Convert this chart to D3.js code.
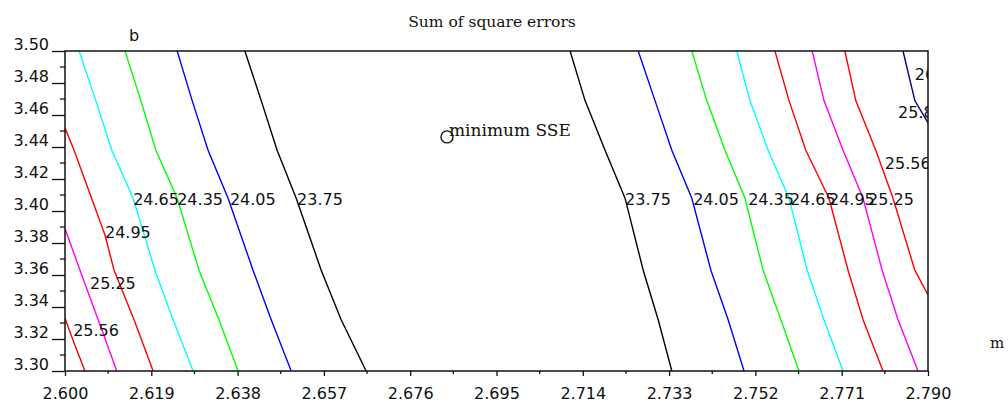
<!DOCTYPE html>
<html>
<head>
<meta charset="utf-8">
<script src="https://cdn.jsdelivr.net/npm/d3@7"></script>
<style>
  body { margin: 0; background: #fff; }
  .tick-label { font: 16px "DejaVu Sans", sans-serif; fill: #111; }
  .clabel { font: 16px "DejaVu Sans", sans-serif; fill: #111; }
  .serif { font-family: "DejaVu Serif", serif; fill: #111; }
</style>
</head>
<body>
<div class="chart"></div>
<script>
var svgWidth = 1008;
var svgHeight = 402;

// plot box in pixels
var margin = { top: 51, right: 80, bottom: 31, left: 65 };
var width = svgWidth - margin.left - margin.right;
var height = svgHeight - margin.top - margin.bottom;

// axis ranges and ticks
var mDomain = [2.6, 2.79];
var bDomain = [3.3, 3.5];
var mTicks = [2.600, 2.619, 2.638, 2.657, 2.676, 2.695, 2.714, 2.733, 2.752, 2.771, 2.790];
var bTicks = [3.30, 3.32, 3.34, 3.36, 3.38, 3.40, 3.42, 3.44, 3.46, 3.48, 3.50];

// contour levels and the colour of each line
var levels = ["23.75", "24.05", "24.35", "24.65", "24.95", "25.25", "25.56", "25.86", "26.16"];
var levelColors = ["#000000", "#0000ff", "#00ff00", "#00ffff", "#ff0000", "#ff00ff", "#ff0000", "#000080", "#000080"];

// contour lines, [m, b] points
var leftLines = [
  { level: "25.56", pts: [[2.6000, 3.333], [2.6022, 3.316], [2.6044, 3.300]] },
  { level: "25.25", pts: [[2.6000, 3.389], [2.6033, 3.363], [2.6073, 3.332], [2.6114, 3.300]] },
  { level: "24.95", pts: [[2.6000, 3.452], [2.6020, 3.438], [2.6088, 3.385], [2.6108, 3.363], [2.6152, 3.332], [2.6194, 3.300]] },
  { level: "24.65", pts: [[2.6031, 3.500], [2.6068, 3.469], [2.6103, 3.438], [2.6150, 3.408], [2.6198, 3.363], [2.6238, 3.332], [2.6282, 3.300]] },
  { level: "24.35", pts: [[2.6132, 3.500], [2.6167, 3.469], [2.6200, 3.438], [2.6247, 3.408], [2.6295, 3.363], [2.6339, 3.332], [2.6381, 3.300]] },
  { level: "24.05", pts: [[2.6247, 3.500], [2.6280, 3.469], [2.6315, 3.438], [2.6359, 3.408], [2.6414, 3.363], [2.6454, 3.332], [2.6498, 3.300]] },
  { level: "23.75", pts: [[2.6396, 3.500], [2.6432, 3.469], [2.6467, 3.438], [2.6509, 3.408], [2.6564, 3.363], [2.6608, 3.332], [2.6663, 3.300]] }
];

var rightLines = [
  { level: "23.75", pts: [[2.7112, 3.500], [2.7145, 3.469], [2.7189, 3.438], [2.7233, 3.408], [2.7273, 3.363], [2.7306, 3.332], [2.7336, 3.300]] },
  { level: "24.05", pts: [[2.7262, 3.500], [2.7299, 3.469], [2.7336, 3.438], [2.7380, 3.408], [2.7422, 3.363], [2.7460, 3.332], [2.7495, 3.300]] },
  { level: "24.35", pts: [[2.7380, 3.500], [2.7413, 3.469], [2.7453, 3.438], [2.7497, 3.408], [2.7537, 3.363], [2.7576, 3.332], [2.7616, 3.300]] },
  { level: "24.65", pts: [[2.7479, 3.500], [2.7508, 3.469], [2.7548, 3.438], [2.7594, 3.408], [2.7634, 3.363], [2.7671, 3.332], [2.7713, 3.300]] },
  { level: "24.95", pts: [[2.7563, 3.500], [2.7594, 3.469], [2.7631, 3.438], [2.7682, 3.408], [2.7724, 3.363], [2.7757, 3.332], [2.7801, 3.300]] },
  { level: "25.25", pts: [[2.7645, 3.500], [2.7671, 3.469], [2.7713, 3.438], [2.7757, 3.408], [2.7799, 3.363], [2.7834, 3.332], [2.7878, 3.300]] },
  { level: "25.56", pts: [[2.7717, 3.500], [2.7741, 3.469], [2.7785, 3.438], [2.7823, 3.408], [2.7871, 3.363], [2.7900, 3.3475]] },
  { level: "25.86", pts: [[2.7845, 3.500], [2.7871, 3.469], [2.7900, 3.455]] }
];

// contour labels: text with its left end / baseline in data units
var labelText = ["24.65", "24.35", "24.05", "23.75", "24.95", "25.25", "25.56",
                 "23.75", "24.05", "24.35", "24.65", "24.95", "25.25", "25.56", "25.86", "26.16"];
var labelM = [2.6150, 2.6247, 2.6363, 2.6511, 2.6088, 2.6055, 2.6018,
              2.7233, 2.7383, 2.7504, 2.7596, 2.7682, 2.7768, 2.7805, 2.7834, 2.7871];
var labelB = [3.404, 3.404, 3.404, 3.404, 3.383, 3.351, 3.322,
              3.404, 3.404, 3.404, 3.404, 3.404, 3.404, 3.426, 3.458, 3.482];

// minimum of the sum of square errors
var minPoint = { m: 2.6841, b: 3.4463, text: "minimum SSE" };

var svg = d3.select(".chart").append("svg")
  .attr("width", svgWidth)
  .attr("height", svgHeight);

var chart = svg.append("g")
  .attr("transform", "translate(" + margin.left + "," + margin.top + ")");

var x = d3.scaleLinear().domain(mDomain).range([0, width]);
var y = d3.scaleLinear().domain(bDomain).range([height, 0]);

chart.append("clipPath").attr("id", "plotClip")
  .append("rect").attr("x", 0).attr("y", 0).attr("width", width).attr("height", height);

var plot = chart.append("g").attr("clip-path", "url(#plotClip)");

var line = d3.line()
  .x(function(d) { return x(d[0]); })
  .y(function(d) { return y(d[1]); });

function colorOf(level) {
  return levelColors[levels.indexOf(level)];
}

plot.selectAll("path.contour")
  .data(leftLines.concat(rightLines))
  .enter()
  .append("path")
  .attr("class", "contour")
  .attr("d", function(d) { return line(d.pts); })
  .attr("fill", "none")
  .attr("stroke", function(d) { return colorOf(d.level); })
  .attr("stroke-width", 1.4);

plot.selectAll("text.clabel")
  .data(labelText)
  .enter()
  .append("text")
  .attr("class", "clabel")
  .attr("x", function(d, i) { return x(labelM[i]); })
  .attr("y", function(d, i) { return y(labelB[i]); })
  .text(function(d) { return d; });

// minimum marker
chart.append("circle")
  .attr("cx", x(minPoint.m))
  .attr("cy", y(minPoint.b))
  .attr("r", 6)
  .attr("fill", "none")
  .attr("stroke", "#111")
  .attr("stroke-width", 1.4);

chart.append("text")
  .attr("class", "serif")
  .attr("x", x(minPoint.m) + 2)
  .attr("y", y(minPoint.b) - 1)
  .style("font-size", "17px")
  .text(minPoint.text);

// axes
var bottomAxis = d3.axisBottom(x).tickValues(mTicks).tickSize(5).tickFormat(d3.format(".3f"));
var leftAxis = d3.axisLeft(y).tickValues(bTicks).tickSize(13).tickFormat(d3.format(".2f"));

var gx = chart.append("g")
  .attr("transform", "translate(0," + height + ")")
  .call(bottomAxis);
gx.select(".domain").remove();
gx.selectAll(".tick line").attr("stroke", "#111").attr("stroke-width", 1.3);
gx.selectAll(".tick text").attr("class", "tick-label").attr("y", 22).attr("dy", "0.35em").style("font", null);

var mMinor = mTicks.slice(1).map(function(d, i) { return (d + mTicks[i]) / 2; });
chart.append("g").selectAll("line")
  .data(mMinor)
  .enter().append("line")
  .attr("x1", function(d) { return x(d); })
  .attr("x2", function(d) { return x(d); })
  .attr("y1", height)
  .attr("y2", height + 3)
  .attr("stroke", "#111")
  .attr("stroke-width", 1.3);

var gy = chart.append("g").call(leftAxis);
gy.select(".domain").remove();
gy.selectAll(".tick line").attr("stroke", "#111").attr("stroke-width", 1.3);
gy.selectAll(".tick text").attr("class", "tick-label").attr("x", -16).attr("dy", "-0.1em").style("font", null);

var bMinor = bTicks.slice(1).map(function(d, i) { return (d + bTicks[i]) / 2; });
chart.append("g").selectAll("line")
  .data(bMinor)
  .enter().append("line")
  .attr("x1", -5)
  .attr("x2", 0)
  .attr("y1", function(d) { return y(d); })
  .attr("y2", function(d) { return y(d); })
  .attr("stroke", "#111")
  .attr("stroke-width", 1.3);

// frame
chart.append("rect")
  .attr("width", width)
  .attr("height", height)
  .attr("fill", "none")
  .attr("stroke", "#111")
  .attr("stroke-width", 1.5);

// title and axis names
svg.append("text")
  .attr("class", "serif")
  .attr("x", 492)
  .attr("y", 27)
  .attr("text-anchor", "middle")
  .style("font-size", "15.5px")
  .text("Sum of square errors");

svg.append("text")
  .attr("class", "tick-label")
  .attr("x", 129)
  .attr("y", 41)
  .text("b");

svg.append("text")
  .attr("class", "serif")
  .attr("x", 990)
  .attr("y", 348)
  .style("font-size", "15px")
  .text("m");
</script>
</body>
</html>
